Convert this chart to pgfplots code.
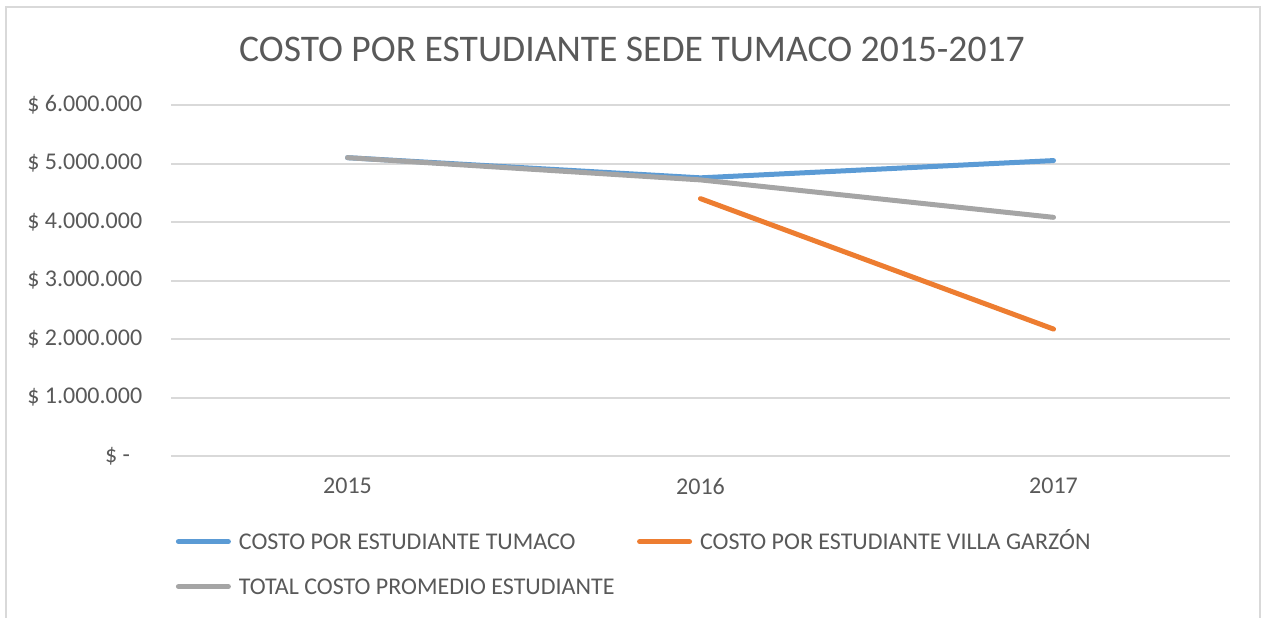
\documentclass[border=0pt]{standalone}
\usepackage{pgfplots}
\pgfplotsset{compat=1.18}
\usepackage{fontspec}
\setmainfont{Carlito}
\definecolor{txt}{HTML}{595959}
\definecolor{gridc}{HTML}{D9D9D9}
\definecolor{cblue}{HTML}{5B9BD5}
\definecolor{corange}{HTML}{ED7D31}
\definecolor{cgray}{HTML}{A5A5A5}
\pgfplotstableread{
x y
0 5100000
1 4755000
2 5050000
}\tumaco
\pgfplotstableread{
x y
1 4400000
2 2170000
}\villa
\pgfplotstableread{
x y
0 5100000
1 4720000
2 4080000
}\total
\begin{document}
\begin{tikzpicture}[x=1pt,y=1pt]
\useasboundingbox (0,0) rectangle (630.5,-308.5);
\draw[color=gridc, line width=1pt] (3.2,-312) -- (3.2,-3.6) -- (629.8,-3.6) -- (629.8,-312);
\node[text=txt, font=\fontsize{18.8}{22}\selectfont] at (316,-24.8) {COSTO POR ESTUDIANTE SEDE TUMACO 2015-2017};
\begin{axis}[
  at={(85.5pt,-228pt)}, anchor=south west,
  width=529.5pt, height=175.5pt, scale only axis,
  xmin=-0.5, xmax=2.5, ymin=0, ymax=6000000,
  axis line style={draw=none}, tick style={draw=none},
  ytick={0,1000000,2000000,3000000,4000000,5000000,6000000},
  yticklabels={{\$ -\phantom{0}},{\$ 1.000.000},{\$ 2.000.000},{\$ 3.000.000},{\$ 4.000.000},{\$ 5.000.000},{\$ 6.000.000}},
  ymajorgrids, grid style={color=gridc, line width=1pt},
  xtick={0,1,2}, xticklabels={2015,2016,2017},
  ticklabel style={text=txt, font=\fontsize{12}{14}\selectfont},
  yticklabel style={anchor=east, inner sep=0pt, xshift=-14.2pt},
  xticklabel style={anchor=north, inner sep=0pt, yshift=-11pt},
  scaled y ticks=false,
  legend columns=2,
  legend cell align=left,
  legend style={draw=none, fill=none, inner sep=0pt,
    at={(axis description cs:0.00425,-0.213)}, anchor=north west,
    font=\fontsize{12}{14}\selectfont, text=txt,
    nodes={inner sep=1.25pt, text height=8pt, text depth=0pt},
    row sep=12pt,
    /tikz/every even column/.append style={column sep=10pt}},
  legend image code/.code={\draw[#1, line cap=round] (1.25pt,0pt) -- (26.25pt,0pt); \path (29pt,0pt);},
]
\addplot[color=cblue, line width=2.5pt, line cap=round, no marks] table {\tumaco};
\addlegendentry{COSTO POR ESTUDIANTE TUMACO}
\addplot[color=corange, line width=2.5pt, line cap=round, no marks] table {\villa};
\addlegendentry{COSTO POR ESTUDIANTE VILLA GARZÓN}
\addplot[color=cgray, line width=2.5pt, line cap=round, no marks] table {\total};
\addlegendentry{TOTAL COSTO PROMEDIO ESTUDIANTE}
\end{axis}
\end{tikzpicture}
\end{document}
